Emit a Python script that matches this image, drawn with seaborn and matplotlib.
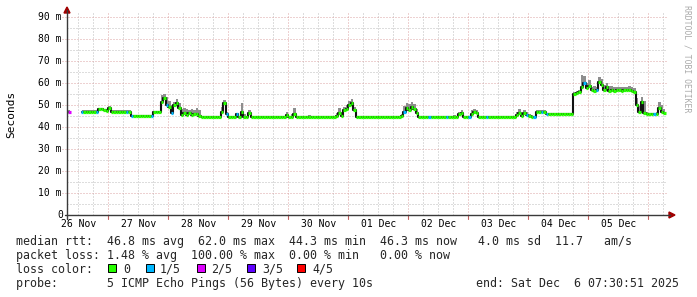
import numpy as np
import pandas as pd
import matplotlib
matplotlib.use("Agg")
import matplotlib.pyplot as plt
import seaborn as sns
from matplotlib.patches import Rectangle, Polygon
from matplotlib.lines import Line2D

nan = float("nan")

# ---------------- data (hourly, hour 0 = Wed Nov 26 07:30:51) ----------------
median_ms = [
    46.8, 46.8, nan, nan, nan, nan, 47.0, 47.0, 47.0, 47.0, 47.0, 47.0, 47.0, 48.0, 48.2, 47.5, 47.2, 48.5, 47.0, 47.0, 47.0, 47.0, 47.0, 47.0,
    47.0, 47.0, 45.0, 44.8, 44.8, 44.8, 44.8, 44.8, 44.8, 44.8, 44.8, 46.8, 46.8, 46.8, 51.5, 53.0, 50.0, 49.0, 46.5, 50.0, 51.0, 48.5, 45.5, 46.5,
    45.5, 46.5, 45.5, 46.0, 46.0, 45.0, 44.5, 44.4, 44.4, 44.4, 44.4, 44.4, 44.4, 44.4, 47.0, 51.0, 46.0, 44.4, 44.4, 44.4, 46.0, 44.4, 47.0, 44.5,
    44.4, 46.5, 44.4, 44.4, 44.4, 44.4, 44.4, 44.4, 44.4, 44.4, 44.4, 44.4, 44.4, 44.4, 44.4, 44.4, 45.5, 44.4, 44.4, 45.8, 44.5, 44.4, 44.4, 44.4,
    44.4, 44.4, 44.4, 44.4, 44.4, 44.4, 44.4, 44.4, 44.4, 44.4, 44.4, 44.4, 45.0, 46.5, 44.8, 47.5, 48.0, 50.0, 51.0, 47.5, 44.4, 44.4, 44.4, 44.4,
    44.4, 44.4, 44.4, 44.4, 44.4, 44.4, 44.4, 44.4, 44.4, 44.4, 44.4, 44.4, 44.4, 44.4, 45.0, 47.0, 48.5, 47.5, 49.0, 48.0, 46.5, 44.4, 44.4, 44.4,
    44.4, 44.4, 44.4, 44.4, 44.4, 44.4, 44.4, 44.4, 44.4, 44.4, 44.4, 44.4, 44.4, 46.0, 46.5, 44.4, 44.4, 44.4, 46.0, 47.0, 46.5, 44.4, 44.4, 44.4,
    44.4, 44.4, 44.4, 44.4, 44.4, 44.4, 44.4, 44.4, 44.4, 44.4, 44.4, 44.4, 45.5, 46.5, 45.0, 46.5, 45.5, 45.0, 44.7, 44.7, 47.0, 47.0, 47.0, 47.0,
    45.8, 45.8, 45.8, 45.8, 45.8, 45.8, 45.8, 45.8, 45.8, 45.8, 45.8, 55.0, 55.5, 56.0, 58.0, 60.0, 57.5, 58.5, 56.8, 56.5, 57.0, 60.5, 59.0, 57.0,
    58.0, 56.5, 57.0, 56.5, 57.0, 56.8, 56.5, 57.0, 56.8, 57.0, 56.5, 56.0, 50.0, 47.0, 51.5, 46.5, 46.0, 45.8, 45.8, 45.8, 46.0, 48.5, 47.0, 46.5,
]

smoke_top_ms = [
    47.5, 47.5, nan, nan, nan, nan, 47.5, 47.5, 47.5, 47.5, 47.5, 47.5, 47.5, 48.6, 48.8, 48.0, 47.8, 49.5, 47.5, 47.5, 47.5, 47.5, 47.5, 47.5,
    47.5, 47.5, 45.5, 45.3, 45.3, 45.3, 45.3, 45.3, 45.3, 45.3, 45.3, 47.3, 47.3, 47.3, 54.5, 55.0, 53.5, 52.0, 50.0, 51.5, 52.5, 51.0, 48.0, 48.5,
    48.0, 47.5, 48.0, 47.5, 48.5, 47.5, 45.0, 44.9, 44.9, 44.9, 44.9, 44.9, 44.9, 44.9, 49.0, 52.3, 47.0, 44.9, 44.9, 44.9, 46.5, 44.9, 51.0, 46.0,
    44.9, 47.7, 44.9, 44.9, 44.9, 44.9, 44.9, 44.9, 44.9, 44.9, 44.9, 44.9, 44.9, 44.9, 44.9, 44.9, 47.0, 44.9, 46.0, 48.5, 45.0, 44.9, 44.9, 44.9,
    44.9, 45.5, 44.9, 44.9, 44.9, 44.9, 44.9, 44.9, 44.9, 44.9, 44.9, 44.9, 46.5, 48.5, 46.0, 49.0, 50.0, 52.0, 52.5, 49.0, 44.9, 44.9, 44.9, 44.9,
    44.9, 44.9, 44.9, 44.9, 44.9, 44.9, 44.9, 44.9, 44.9, 44.9, 44.9, 44.9, 44.9, 44.9, 46.0, 49.5, 51.0, 50.5, 51.3, 50.5, 48.0, 44.9, 44.9, 44.9,
    44.9, 44.9, 44.9, 44.9, 44.9, 44.9, 44.9, 44.9, 44.9, 44.9, 44.9, 45.5, 44.9, 47.0, 47.5, 44.9, 44.9, 44.9, 47.5, 48.0, 47.5, 44.9, 44.9, 44.9,
    44.9, 44.9, 44.9, 44.9, 44.9, 44.9, 44.9, 44.9, 44.9, 44.9, 44.9, 44.9, 47.0, 48.0, 46.0, 47.5, 47.0, 46.0, 45.5, 45.2, 47.5, 47.5, 47.5, 47.5,
    46.3, 46.3, 46.3, 46.3, 46.3, 46.3, 46.3, 46.3, 46.3, 46.3, 46.3, 56.0, 56.5, 57.0, 63.6, 63.0, 60.0, 61.5, 58.0, 58.5, 58.0, 62.9, 62.0, 59.0,
    60.0, 58.5, 58.5, 58.0, 58.3, 58.0, 58.3, 58.0, 58.3, 58.5, 58.0, 57.5, 53.0, 49.5, 53.8, 52.0, 47.0, 46.3, 46.3, 46.3, 47.0, 51.5, 50.0, 48.0,
]

loss_hours = [1, 6, 12, 24, 26, 34, 40, 42, 64, 68, 135, 145, 152, 161, 168, 184, 187, 190, 192, 207, 212, 235]
loss_levels = [2, 1, 1, 1, 1, 1, 1, 1, 1, 1, 1, 1, 1, 1, 1, 1, 1, 1, 1, 1, 1, 1]

day_labels = ["26 Nov", "27 Nov", "28 Nov", "29 Nov", "30 Nov",
              "01 Dec", "02 Dec", "03 Dec", "04 Dec", "05 Dec"]
y_ticks = [0, 10, 20, 30, 40, 50, 60, 70, 80, 90]
y_tick_labels = ["0", "10 m", "20 m", "30 m", "40 m", "50 m", "60 m", "70 m", "80 m", "90 m"]

loss_names = ["0", "1/5", "2/5", "3/5", "4/5"]
loss_colors = ["#26ff00", "#00b8ff", "#dd00ff", "#5e00ff", "#ff0000"]

legend_rtt = "median rtt:  46.8 ms avg  62.0 ms max  44.3 ms min  46.3 ms now   4.0 ms sd  11.7   am/s"
legend_loss = "packet loss: 1.48 % avg  100.00 % max  0.00 % min   0.00 % now"
legend_color = "loss color:"
legend_probe = "probe:       5 ICMP Echo Pings (56 Bytes) every 10s"
legend_end = "end: Sat Dec  6 07:30:51 2025"
watermark = "RRDTOOL / TOBI OETIKER"

# ---------------- figure ----------------
sns.set_theme(style="white")
MONO = ["DejaVu Sans Mono"]
plt.rcParams["font.family"] = MONO

W, H = 697, 297
fig = plt.figure(figsize=(W / 100, H / 100), dpi=100)
fig.patch.set_facecolor("white")


def fx(px):
    return px / W


def fy(py):
    return 1 - py / H


X0, X1 = 67, 667
Y0, YT = 215, 13
PX_PER_MS = 2.2
HOURS = 240
YMAX = (Y0 - YT) / PX_PER_MS

ax = fig.add_axes([fx(X0), fy(Y0), (X1 - X0) / W, (Y0 - YT) / H])
ax.set_xlim(0, HOURS)
ax.set_ylim(0, YMAX)
for s in ax.spines.values():
    s.set_visible(False)
ax.set_facecolor("white")
ax.set_xticks([])
ax.set_yticks([])
ax.set_xlabel("")
ax.set_ylabel("")

GRID_MINOR = "#bdbdbd"
GRID_MAJOR = "#dca4a4"

# horizontal grid
for v in range(5, 95, 10):
    ax.plot([0, HOURS], [v, v], color=GRID_MINOR, lw=0.72, dashes=(1, 2), zorder=0.5)
for v in y_ticks[1:]:
    ax.plot([-5 / 2.5, HOURS], [v, v], color=GRID_MAJOR, lw=0.72, dashes=(1, 2),
            zorder=0.6, clip_on=False)

# vertical grid: midnight of Nov 27 is 16h29m09s after start
MID0 = 16.486
for k in range(-2, 40):
    h = MID0 + 6 * k
    if h < 0 or h > HOURS:
        continue
    major = (k % 4 == 0)
    if major:
        ax.plot([h, h], [0, YMAX], color=GRID_MAJOR, lw=0.72, dashes=(1, 2), zorder=0.6)
        ax.plot([h, h], [-4 / PX_PER_MS, 0], color="#c06060", lw=0.8, clip_on=False, zorder=3)
    else:
        ax.plot([h, h], [0, YMAX], color=GRID_MINOR, lw=0.72, dashes=(1, 2), zorder=0.5)

# ---------------- data marks ----------------
hours = np.arange(HOURS)
med = np.array(median_ms, dtype=float)
top = np.array(smoke_top_ms, dtype=float)
loss = np.zeros(HOURS, dtype=int)
loss[loss_hours] = loss_levels

# smoke
ax.fill_between(hours, med, top, step="mid", color="#8e8e8e", lw=0, zorder=2)

# black step line (connectors)
df = pd.DataFrame({"hour": hours, "median": med, "seg": np.cumsum(np.isnan(med))})
df = df.dropna()
sns.lineplot(data=df, x="hour", y="median", units="seg", estimator=None,
             drawstyle="steps-mid", color="#111111", lw=1.5, ax=ax, legend=False, zorder=3)
ax.set_xlabel("")
ax.set_ylabel("")

# loss-coloured median segments
ok = ~np.isnan(med)
ax.hlines(med[ok], hours[ok] - 0.5, hours[ok] + 0.5,
          colors=[loss_colors[l] for l in loss[ok]], lw=2.3, zorder=4)

# ---------------- axes lines & arrows ----------------
AX_COL = "#3a3a3a"
fig.add_artist(Line2D([fx(65), fx(670)], [fy(Y0), fy(Y0)], color=AX_COL, lw=1.0))
fig.add_artist(Line2D([fx(X0), fx(X0)], [fy(219), fy(10)], color=AX_COL, lw=1.0))
ARROW = "#a00000"
fig.add_artist(Polygon([(fx(64), fy(13)), (fx(70), fy(13)), (fx(67), fy(7))],
                       closed=True, color=ARROW, transform=fig.transFigure))
fig.add_artist(Polygon([(fx(669), fy(212)), (fx(669), fy(218)), (fx(675), fy(215))],
                       closed=True, color=ARROW, transform=fig.transFigure))

# ---------------- tick labels ----------------
TICK_FS = 7.0
for v, lab in zip(y_ticks, y_tick_labels):
    ypx = Y0 - v * PX_PER_MS
    xr = 63.5 if v == 0 else 61
    fig.text(fx(xr), fy(ypx + 3), lab, ha="right", va="baseline",
             fontsize=TICK_FS, color="#000000", family=MONO)

for i, lab in enumerate(day_labels):
    h = MID0 - 12 + 24 * i
    xpx = X0 + h * (X1 - X0) / HOURS
    fig.text(fx(xpx), fy(227), lab, ha="center", va="baseline",
             fontsize=TICK_FS, color="#000000", family=MONO)

fig.text(fx(11), fy(114), "Seconds", rotation=90, ha="center", va="center",
         fontsize=8.0, color="#000000", family=MONO)

fig.text(fx(686.5), fy(59), watermark, rotation=-90, ha="center", va="center",
         fontsize=5.9, color="#aaaaaa", family=MONO)

# ---------------- legend ----------------
LEG_FS = 8.4
fig.text(fx(16), fy(245), legend_rtt, ha="left", va="baseline", fontsize=LEG_FS, family=MONO)
fig.text(fx(16), fy(259), legend_loss, ha="left", va="baseline", fontsize=LEG_FS, family=MONO)
fig.text(fx(16), fy(273), legend_color, ha="left", va="baseline", fontsize=LEG_FS, family=MONO)
fig.text(fx(16), fy(287), legend_probe, ha="left", va="baseline", fontsize=LEG_FS, family=MONO)
fig.text(fx(476.5), fy(287), legend_end, ha="left", va="baseline", fontsize=LEG_FS, family=MONO)

box_x = [108, 146, 197, 247, 297]
lab_x = [123, 160, 211, 262, 312]
for bx, lx, name, col in zip(box_x, lab_x, loss_names, loss_colors):
    fig.add_artist(Rectangle((fx(bx), fy(271.5)), 7.5 / W, 7.5 / H, facecolor=col,
                             edgecolor="#000000", lw=0.7, transform=fig.transFigure))
    fig.text(fx(lx), fy(273), name, ha="left", va="baseline", fontsize=LEG_FS, family=MONO)

fig.savefig("out.png", dpi=100, facecolor="white")
